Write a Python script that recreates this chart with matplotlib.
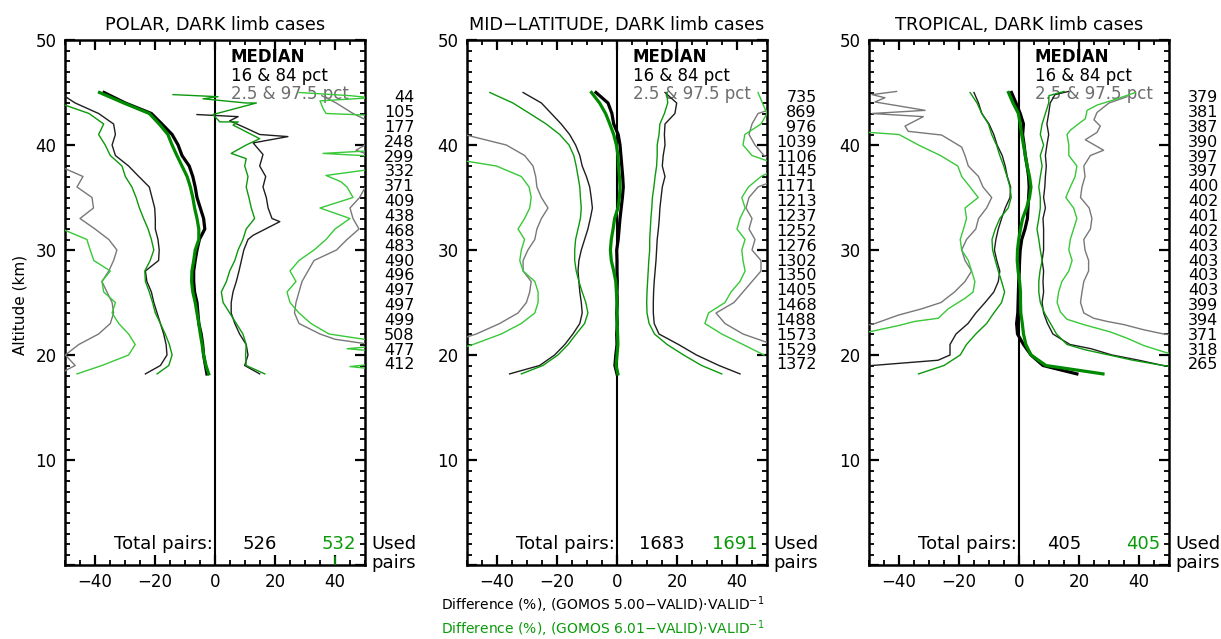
import numpy as np
import matplotlib.pyplot as plt
import matplotlib.transforms as mtransforms
from matplotlib.ticker import MultipleLocator

plt.rcParams['font.family'] = ['DejaVu Sans']

nan = np.nan

# common altitude grid (km) for most percentile profiles
ALT = [45, 44, 43, 42, 41, 40, 39, 38, 37, 36, 35, 34, 33, 32, 31, 30,
       29, 28, 27, 26, 25, 24, 23, 22, 21, 20, 19, 18.2]

# ---------------- POLAR ----------------
pol_med5 = [-37, -29.9, -21.2, -17.7, -14.3, -12.3, -11, -8.6, -7.4, -6.6, -6, -4.9, -3.8, -3.4,
            -5.2, -6, -6.6, -7.1, -7.1, -6.8, -6, -5.7, -5.4, -4.6, -4.1, -3.8, -3.2, -2.7]
pol_med6 = [-38.5, -30.4, -21.9, -18.6, -15.7, -14.3, -12.7, -11, -9.3, -8.2, -7.4, -6.8, -6, -5.4,
            -5.4, -6.6, -7.1, -7.7, -7.8, -7.4, -6.6, -6, -5.4, -4.9, -4.3, -3.8, -3, -2.1]
pol_p16_5 = [-52, -46.6, -38.8, -33.8, -33.2, -34.3, -33.2, -28.8, -25.4, -21.9, -21, -20.1, -19.9, -19.9,
             -19, -18.6, -18.8, -23.2, -22.7, -21.2, -20.4, -19.3, -18.2, -17.1, -16.3, -16, -18.2, -23.2]
pol_p16_6 = [nan, -52, -42, -37.1, -38.8, -36.6, -34.9, -31, -29.9, -27.7, -26.3, -25.2, -23.8, -22.3,
             -21.2, -20.4, -21.6, -23.4, -23.2, -21.9, -20.8, -19.9, -18.2, -16.6, -15.2, -14.3, -15.4, -19.3]
pol_p2_5 = [nan, nan, nan, nan, nan, nan, -58, -52, -44, -46, -41, -40.5, -45, -40,
            -35.4, -32.7, -33.8, -35.4, -37.7, -36, -34.3, -33.8, -34.9, -38.8, -45.4, -49.9, -46.6, -52]
pol_p2_6 = [nan, nan, nan, nan, nan, nan, nan, nan, nan, nan, nan, nan, nan, -51,
            -42.7, -41.6, -40.4, -34.9, -37.7, -37.1, -33.2, -34.3, -32.1, -28.8, -26.6, -28.8, -37.7, -46]
pol_p84_5_alt = [42.9, 42.7, 42.3, 41.6, 41.0, 40.8, 40.2, 39.1, 38, 37, 36, 35, 34, 33, 32.7, 31.4,
                 31, 30, 29, 28, 27, 26, 25, 24, 23, 22, 21, 20, 19, 18.2]
pol_p84_5 = [-6, 7.7, 4.9, 10.4, 14.9, 24.3, 12.7, 16, 14.9, 16.9, 16, 17.1, 17.7, 19, 21.6, 12.7,
             11, 9.6, 8.8, 8, 7.1, 6, 5.4, 5.4, 6.6, 8.2, 10.4, 11, 9.9, 14.9]
pol_p84_6_alt = [44.8, 44.6, 44.4, 44.0, 44.0, 42.9, 42.2, 42.2, 41.9, 40.6, 40.0, 39.2, 38.7, 38, 37,
                 36, 35, 34, 33, 32, 31, 30, 29, 28, 27, 26, 25, 24, 23, 22, 21, 20, 19, 18.2]
pol_p84_6 = [-14, 1, -4, 10.4, 13.8, -0.7, 1.6, 7.7, 6, 14.9, 10.4, 5.4, 10.4, 9.9, 11,
             10.4, 11.3, 12.1, 13.2, 10.4, 9.3, 7.7, 6.6, 4.9, 3.8, 2.1, 2.7, 4.9, 7.1, 9.3, 10.4, 10.2, 10.4, 16.6]
pol_p97_5_alt = [44.7, 44.0, 43.0, 42.3, 41.0, 39.5, 39.0, 38.0, 35.0, 34, 33, 32, 31, 30, 29, 28,
                 27, 26, 25, 24, 23, 22, 21.5, 21]
pol_p97_5 = [35.6, 40.4, 46, 51, 56, 47, 52, 54, 48.2, 45, 46, 48, 44, 40.5, 33, 31,
             29, 28, 27, 26.5, 28, 35, 40, 52]
pol_p97_6_alt = [45.0, 44.7, 44.5, 44.2, 43.5, 43.0, 42.8, 39.5, 39.2, 38.9, 37.8, 37.1, 36.5, 36, 35,
                 34, 33, 32, 31, 30, 29, 28, 27, 26, 25, 24, 23, 22, 21.4, 20.8, 20.6, 20.4, 19.2, 18.9, 18.6]
pol_p97_6 = [28, 45, 52, 35, 36, 37, 55, 55, 36, 55, 55, 37, 42, 44, 46,
             35, 45, 40, 37, 33, 28, 25, 27, 24, 25, 28, 32, 38, 52, 52, 44, 52, 55, 45, 55]
pol_stub_alt = [0, 0.8]
pol_stub = [40, 40]
pol_counts = [44, 105, 177, 248, 299, 332, 371, 409, 438, 468, 483, 490, 496, 497, 497, 499, 508, 477, 412]
pol_total = (526, 532)

# ---------------- MID-LATITUDE ----------------
mid_med5 = [-7, -3, -1.7, -1.1, 0.4, 1.0, 1.3, 1.6, 1.9, 2.1, 1.8, 1.4, 1.0, 0.7,
            0.4, -0.1, 0, 0, 0.1, 0, 0.1, -0.1, 0.1, -0.1, 0, -0.4, -0.7, 0]
mid_med6 = [-8.5, -5.8, -3.8, -2.4, -1.1, -0.2, 0.3, 0.5, 0.8, 1.0, 0.8, 0.3, -0.8, -1.3,
            -1.9, -2.2, -1.9, -1.1, -0.4, -0.2, 0, 0, 0, 0.2, 0.3, 0, -0.3, 0.3]
mid_p16_5 = [-31.3, -25.2, -21.9, -18.6, -15.8, -13.8, -12.4, -11.6, -10.2, -9.1, -8.6, -8.2, -8.9, -9.7,
             -10.8, -11.9, -12.7, -13, -12.7, -12.4, -11.9, -11.6, -12.4, -14.7, -17.4, -20.8, -25.8, -35.8]
mid_p16_6 = [-42.4, -34.7, -29.1, -23.6, -19.1, -16, -14.4, -13.6, -13, -12.4, -12.2, -11.9, -12.2, -13,
             -13.8, -14.1, -14.1, -13.6, -12.7, -11.6, -10.4, -9.7, -10.8, -13.6, -16.3, -19.7, -24.7, -31.9]
mid_p2_5 = [nan, nan, nan, nan, -51, -36.9, -30.8, -28, -27.1, -26.7, -25.2, -23, -25.2, -26.7,
            -27.4, -29.7, -31.3, -31.3, -28.6, -29.1, -30.2, -33, -39.1, -46.9, -58, nan, nan, nan]
mid_p2_6 = [nan, nan, nan, nan, nan, nan, -62, -40.2, -31.9, -29.3, -28.6, -29.1, -30.8, -33,
            -30.8, -31.9, -32.4, -31.3, -27.4, -26.3, -26.3, -27.4, -31.9, -38.6, -48, -60, nan, nan]
mid_p84_5 = [16, 19.9, 19.3, 16, 15.8, 16, 15.4, 15.1, 16, 15.1, 14.7, 14.3, 14.1, 13.8,
             13.4, 13.2, 13, 12.7, 12.4, 12.2, 12.1, 12.1, 12.4, 14, 20.5, 26.5, 34, 41]
mid_p84_6 = [16.6, 16.9, 15.8, 14.3, 14, 13.4, 13.4, 13.2, 12.7, 12.3, 11.8, 11.6, 11.3, 11.1,
             10.9, 10.9, 10.6, 10.4, 10.2, 10, 9.9, 10, 10.7, 12.5, 16.7, 22.2, 28.2, 34.9]
mid_p97_5 = [nan, 58, 47, 45, 44, 46, 49, 56, 56, 47, 44, 43, 45, 44,
             46, 45, 48, 48, 45, 42, 39, 33, 36, 42, 52, nan, nan, nan]
mid_p97_6 = [47, 48.5, 50, 48, 42.6, 42, 45, 55, 48, 43.8, 41.6, 42.7, 41, 40,
             42.7, 41.6, 42, 42.7, 41, 38, 36, 30.5, 29.3, 34.9, 42, 49, nan, nan]
mid_counts = [735, 869, 976, 1039, 1106, 1145, 1171, 1213, 1237, 1252, 1276, 1302, 1350, 1405,
              1468, 1488, 1573, 1529, 1372]
mid_total = (1683, 1691)

# ---------------- TROPICAL ----------------
tro_med5 = [-2.5, -1, 0.4, 1.5, 1.2, 1.7, 2.1, 2.7, 3.2, 3.4, 3.2, 3.0, 2.8, 2.0,
            0.9, 0.4, 0.2, 0.1, -0.1, -0.2, -0.3, -0.4, -0.8, -0.5, 1.5, 4, 8, 19.3]
tro_med6 = [-3.5, -2, -0.2, 0.4, 0.9, 1.5, 2.1, 2.7, 3.5, 4, 3.5, 2.5, 1.2, 0.5,
            -0.1, -0.5, -0.6, -0.3, 0.2, 0.5, 0.5, 0.6, 1.1, 1.5, 2.3, 4, 9, 28]
tro_p16_5_alt = [45, 44, 43, 42, 41, 40, 39, 38, 37, 36, 35, 34, 33, 32, 31, 30,
                 29, 28, 27, 26, 25, 24, 23, 22, 21, 20, 19.5, 19.0, 18.9]
tro_p16_5 = [-15, -13.5, -12.4, -10, -8.4, -7.3, -5.6, -4.6, -3.9, -2.8, -3, -4.6, -5.8, -6.9, -7.7, -8.2,
             -7.4, -6.4, -6.9, -8.4, -11.3, -14.4, -17, -21, -23, -23, -27, -49, -55]
tro_p16_6 = [-16.3, -14, -12.4, -10.2, -9.1, -7.5, -6.4, -5.1, -4, -3, -2.6, -3.6, -6.4, -7.9,
             -9, -8.8, -7.9, -6.9, -5.8, -4.8, -5.8, -8.4, -10.8, -14.4, -17.5, -19.6, -25, -33.5]
tro_p2_5_alt = [45.1, 44.8, 44.5, 44.1, 43.3, 43.0, 42.7, 41.8, 41.3, 40.95, 39.8, 39, 38, 37, 36,
                35, 34, 33, 32, 31, 30, 29, 28, 27, 26, 25, 24.4, 23.8, 23.0, 22.8]
tro_p2_5 = [-40.8, -49, -44.7, -48, -31.3, -49, -31.9, -38, -36.9, -25.8, -19.1, -18, -16.9, -13.5, -12,
            -9.1, -10.8, -13.5, -14.4, -17.5, -19.1, -18, -15.8, -18, -21.5, -26, -32.4, -40.2, -48, -51]
tro_p2_6_alt = [41.2, 41, 40, 39, 38, 37, 36, 35, 34, 33, 32, 31, 30, 29, 28, 27, 26,
                25.4, 24.4, 23.5, 23.2, 22.8, 22.2, 22.0]
tro_p2_6 = [-50, -40, -33.5, -26.2, -20.4, -19.1, -16.3, -13.6, -18, -17.5, -18.5, -19.6, -19.1, -16.9,
            -15.8, -14.7, -15.3, -18, -23.6, -26.9, -34.7, -40.2, -50, -53]
tro_p84_5_alt = [45.1, 44.8, 44, 43, 42, 41, 40, 39, 38, 37, 36, 35, 34, 33, 32, 31, 30,
                 29, 28, 27, 26, 25, 24, 23, 22, 21.4, 21, 20.6, 20, 19.5, 19, 18.9]
tro_p84_5 = [16.5, 12, 10.4, 9.9, 9.3, 9.9, 9.3, 8.8, 9.1, 8.8, 8.6, 8.2, 8.8, 8, 8.2, 8.2, 8.2,
             7.7, 8.2, 8, 8.2, 7.7, 8.2, 9.5, 11.3, 14.7, 17, 24, 31, 40, 48, 51]
tro_p84_6_alt = [45.1, 44.7, 44, 43, 42, 41, 40, 39, 38, 37, 36, 35, 34, 33, 32, 31, 30,
                 29, 28, 27, 26, 25, 24, 23, 22, 21, 20.5, 20, 19.5, 19, 18.9]
tro_p84_6 = [15, 10, 9.9, 8.8, 7.7, 7.1, 8.2, 7.1, 7.7, 7.1, 6.6, 7.1, 7.1, 6.6, 6, 6.6, 7.1,
             7.7, 7, 6.6, 6.6, 7.1, 8.5, 10.5, 12.5, 16, 22, 30, 38, 48, 51]
tro_p97_5_alt = [44.6, 44.0, 43.1, 42.4, 41.8, 41.2, 40.5, 39.5, 39.0, 38, 37, 36, 35, 34, 33,
                 32, 31, 30, 29, 28, 27, 26, 25, 24, 23.5, 23.2, 22.9, 22.4, 22.0, 21.9]
tro_p97_5 = [36, 30, 26, 25, 27.1, 26, 22.1, 28.2, 23.8, 21.6, 22, 21, 20.5, 23.4, 24.3,
             23.8, 21.6, 22, 23.2, 23.2, 21.6, 21, 20.5, 21.6, 24.9, 29.3, 34.9, 41.6, 48.2, 51]
tro_p97_6_alt = [45.0, 44.4, 43.8, 43.3, 42.5, 41.9, 41.4, 41, 40, 39, 38, 37, 36, 35, 34, 33,
                 32, 31, 30, 29, 28, 27, 26, 25, 24.1, 23.4, 22.9, 22.2, 21.6, 20.9, 20.3, 20.1]
tro_p97_6 = [38.8, 32.7, 26, 22.7, 22.1, 19.3, 17.1, 16, 16.6, 16.6, 19.3, 18.7, 17.1, 15.6, 18.2, 19.3,
             18.2, 17.1, 16.6, 17.7, 16.6, 14.3, 13.2, 12.7, 13.8, 16, 21.5, 30.4, 36, 41.6, 48.2, 51]
tro_counts = [379, 381, 387, 390, 397, 397, 400, 402, 401, 402, 403, 403, 403, 403, 399, 394, 371, 318, 265]
tro_total = (405, 405)

# colours
GRAY = '#787878'
BLK_THIN = '#1e1e1e'
GRN_MED = '#008a00'
GRN = '#0c980c'
LGRN = '#38c838'
GTXT = '#0a9a0a'

# altitudes at which the per-bin pair counts are written
count_alt = np.linspace(44.5, 19.05, 19)


def panel(ax, title, lines, counts, totals):
    for alt, val, col, lw in lines:
        ax.plot(val, alt, color=col, lw=lw, zorder=3)
    ax.axvline(0, color='black', lw=1.5, zorder=2)

    ax.set_xlim(-50, 50)
    ax.set_ylim(0, 50)
    ax.set_xticks([-40, -20, 0, 20, 40])
    ax.set_yticks([0, 10, 20, 30, 40, 50])
    ax.set_yticklabels(['', '10', '20', '30', '40', '50'])
    ax.xaxis.set_minor_locator(MultipleLocator(5))
    ax.yaxis.set_minor_locator(MultipleLocator(1))
    ax.tick_params(which='both', direction='in', top=True, right=True, labelsize=12)
    ax.tick_params(which='major', length=7, width=1.6, pad=6)
    ax.tick_params(which='minor', length=3.5, width=1.3)
    for s in ax.spines.values():
        s.set_linewidth(1.8)
    ax.set_title(title, fontsize=12.8, pad=7)

    tr = mtransforms.blended_transform_factory(ax.transAxes, ax.transData)
    ax.text(0.553, 48.4, 'MEDIAN', transform=tr, fontsize=12, fontweight='bold', va='center', zorder=1)
    ax.text(0.553, 46.6, '16 & 84 pct', transform=tr, fontsize=12, va='center', zorder=1)
    ax.text(0.553, 44.9, '2.5 & 97.5 pct', transform=tr, fontsize=12, color='#6e6e6e',
            va='center', zorder=1)

    for a, c in zip(count_alt, counts):
        ax.text(1.165, a, str(c), transform=tr, fontsize=11.5, ha='right', va='center', clip_on=False)

    ax.text(-0.6, 2.0, 'Total pairs:', fontsize=13, ha='right', va='center')
    ax.text(15, 2.0, str(totals[0]), fontsize=13, ha='center', va='center')
    ax.text(47, 2.0, str(totals[1]), fontsize=13, ha='right', va='center', color=GTXT)
    ax.text(1.02, 2.0, 'Used', transform=tr, fontsize=13, ha='left', va='center', clip_on=False)
    ax.text(1.02, 0.2, 'pairs', transform=tr, fontsize=13, ha='left', va='center', clip_on=False)


def lineset(p2_5, p97_5, p16_5, p84_5, med5, p2_6, p97_6, p16_6, p84_6, med6):
    return [
        (p2_5[0], p2_5[1], GRAY, 1.0), (p97_5[0], p97_5[1], GRAY, 1.0),
        (p16_5[0], p16_5[1], BLK_THIN, 1.0), (p84_5[0], p84_5[1], BLK_THIN, 1.0),
        (med5[0], med5[1], 'black', 2.3),
        (p2_6[0], p2_6[1], LGRN, 1.0), (p97_6[0], p97_6[1], LGRN, 1.0),
        (p16_6[0], p16_6[1], GRN, 1.0), (p84_6[0], p84_6[1], GRN, 1.0),
        (med6[0], med6[1], GRN_MED, 2.3),
    ]


fig = plt.figure(figsize=(12.21, 6.39), dpi=100)
W, H = 1221, 639
bot = 1 - 565 / H
hgt = 525 / H
wid = 300 / W

ax1 = fig.add_axes([65 / W, bot, wid, hgt])
ax2 = fig.add_axes([467 / W, bot, wid, hgt])
ax3 = fig.add_axes([869 / W, bot, wid, hgt])

pol_lines = lineset((ALT, pol_p2_5), (pol_p97_5_alt, pol_p97_5), (ALT, pol_p16_5),
                    (pol_p84_5_alt, pol_p84_5), (ALT, pol_med5),
                    (ALT, pol_p2_6), (pol_p97_6_alt, pol_p97_6), (ALT, pol_p16_6),
                    (pol_p84_6_alt, pol_p84_6), (ALT, pol_med6))
pol_lines.append((pol_stub_alt, pol_stub, GRN, 1.2))
panel(ax1, 'POLAR, DARK limb cases', pol_lines, pol_counts, pol_total)

mid_lines = lineset((ALT, mid_p2_5), (ALT, mid_p97_5), (ALT, mid_p16_5), (ALT, mid_p84_5),
                    (ALT, mid_med5), (ALT, mid_p2_6), (ALT, mid_p97_6), (ALT, mid_p16_6),
                    (ALT, mid_p84_6), (ALT, mid_med6))
panel(ax2, 'MID\u2212LATITUDE, DARK limb cases', mid_lines, mid_counts, mid_total)

tro_lines = lineset((tro_p2_5_alt, tro_p2_5), (tro_p97_5_alt, tro_p97_5), (tro_p16_5_alt, tro_p16_5),
                    (tro_p84_5_alt, tro_p84_5), (ALT, tro_med5),
                    (tro_p2_6_alt, tro_p2_6), (tro_p97_6_alt, tro_p97_6), (ALT, tro_p16_6),
                    (tro_p84_6_alt, tro_p84_6), (ALT, tro_med6))
panel(ax3, 'TROPICAL, DARK limb cases', tro_lines, tro_counts, tro_total)

fig.text(20 / W, 1 - 305 / H, 'Altitude (km)', rotation=90, fontsize=11, ha='center', va='center')
fig.text(441 / W, 1 - 605 / H, r'Difference (%), (GOMOS 5.00$-$VALID)$\cdot$VALID$^{-1}$',
         fontsize=10, ha='left', va='center')
fig.text(441 / W, 1 - 629 / H, r'Difference (%), (GOMOS 6.01$-$VALID)$\cdot$VALID$^{-1}$',
         fontsize=10, ha='left', va='center', color=GTXT)

fig.savefig('out.png', dpi=100)
